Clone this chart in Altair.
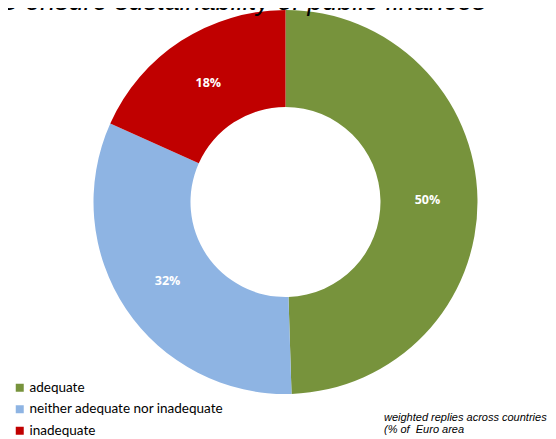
import altair as alt
import pandas as pd

categories = ["adequate", "neither adequate nor inadequate", "inadequate"]
values = [49.5, 32.2, 18.3]
labels = ["50%", "32%", "18%"]
colors = ["#77933C", "#8EB4E3", "#C00000"]

df = pd.DataFrame({"category": categories, "value": values, "label": labels,
                   "order": list(range(len(categories)))})

CX, CY = 277.5, 194

color = alt.Color("category:N", scale=alt.Scale(domain=categories, range=colors),
                  sort=categories,
                  legend=alt.Legend(title=None, orient="none", legendX=5, legendY=373,
                                    symbolType="square", symbolSize=64, symbolStrokeWidth=0,
                                    labelFont="Lato", labelFontSize=13.5, labelColor="#000000",
                                    labelLimit=400, rowPadding=6.5, symbolOffset=0, labelOffset=3))

base = alt.Chart(df).encode(
    theta=alt.Theta("value:Q", stack=True),
    order=alt.Order("order:Q"),
)

arcs = base.mark_arc(innerRadius=95, outerRadius=192, strokeWidth=0).encode(
    color=color, x=alt.value(CX), y=alt.value(CY))

text = base.mark_text(radius=142, font="Open Sans", fontWeight="bold", fontSize=12.5,
                      color="white").encode(text="label:N", x=alt.value(CX), y=alt.value(CY))

title = alt.Chart(pd.DataFrame({"t": ["to ensure sustainability of public finances"]})).mark_text(
    font="Liberation Sans", fontStyle="italic", fontSize=27, align="right", baseline="alphabetic",
    color="#000000").encode(text="t:N", x=alt.value(478), y=alt.value(1.5))

note = alt.Chart(pd.DataFrame({"t": ["weighted replies across countries", "(% of \u00a0Euro area"],
                               "yy": [413, 425]})).mark_text(
    font="Liberation Sans", fontStyle="italic", fontSize=11, align="left", baseline="alphabetic",
    color="#000000").encode(text="t:N", x=alt.value(376), y=alt.Y("yy:Q", scale=None))

chart = alt.layer(arcs, text, title, note).properties(
    width=540, height=431, padding=0, autosize=alt.AutoSizeParams(type="none")
).configure_view(stroke=None)

chart.save("out.html", embed_options={"renderer": "svg", "actions": False})
